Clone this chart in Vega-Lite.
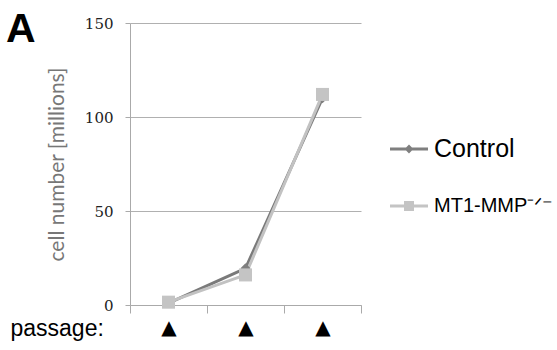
{
  "$schema": "https://vega.github.io/schema/vega-lite/v6.json",
  "autosize": "none",
  "width": 231,
  "height": 282,
  "padding": {"left": 130, "top": 23, "right": 196, "bottom": 45},
  "background": "white",
  "config": {"view": {"stroke": null}},
  "title": {
    "text": "A",
    "anchor": "start",
    "frame": "group",
    "font": "Liberation Sans",
    "fontSize": 41,
    "fontWeight": "bold",
    "color": "black",
    "baseline": "alphabetic",
    "dx": -124,
    "offset": 0,
    "dy": 67
  },
  "data": {
    "values": [
      {"passage": "P1", "series": "Control", "cells": 1.0},
      {"passage": "P2", "series": "Control", "cells": 19.5},
      {"passage": "P3", "series": "Control", "cells": 110},
      {"passage": "P1", "series": "MT1-MMP-/-", "cells": 1.5},
      {"passage": "P2", "series": "MT1-MMP-/-", "cells": 16},
      {"passage": "P3", "series": "MT1-MMP-/-", "cells": 112}
    ]
  },
  "encoding": {
    "x": {
      "field": "passage",
      "type": "ordinal",
      "scale": {"paddingInner": 0, "paddingOuter": 0},
      "axis": {
        "title": "passage:",
        "titleFont": "Liberation Sans",
        "titleFontSize": 23,
        "titleFontWeight": "normal",
        "titleColor": "black",
        "titleAnchor": "start",
        "titleAlign": "left",
        "titleBaseline": "alphabetic",
        "titleX": -120,
        "titleY": 30,
        "labelExpr": "(datum.label == 'P1' || datum.label == 'P2' || datum.label == 'P3') ? '▲' : ''",
        "labelFont": "DejaVu Sans",
        "labelFontSize": 20,
        "labelColor": "black",
        "labelAngle": 0,
        "labelPadding": 4,
        "labelBaseline": "top",
        "domainColor": "#aaaaaa",
        "tickColor": "#aaaaaa",
        "tickBand": "extent",
        "tickSize": 8,
        "grid": false
      }
    },
    "y": {
      "field": "cells",
      "type": "quantitative",
      "scale": {"domain": [0, 150], "nice": false},
      "axis": {
        "title": "cell number [millions]",
        "titleFont": "Lato",
        "titleFontSize": 21,
        "titleFontWeight": "normal",
        "titleColor": "#777777",
        "titlePadding": 17,
        "values": [0, 50, 100, 150],
        "labelFont": "DejaVu Serif",
        "labelFontSize": 15,
        "labelColor": "#222222",
        "labelPadding": 12,
        "domainColor": "#aaaaaa",
        "tickColor": "#aaaaaa",
        "tickSize": 5,
        "grid": true,
        "gridColor": "#b0b0b0",
        "gridWidth": 1
      }
    }
  },
  "layer": [
    {
      "transform": [{"filter": "datum.series == 'Control'"}],
      "mark": {"type": "line", "strokeWidth": 3, "color": "#7a7a7a"}
    },
    {
      "transform": [{"filter": "datum.series == 'MT1-MMP-/-'"}],
      "mark": {"type": "line", "strokeWidth": 3, "color": "#c2c2c2"}
    },
    {
      "transform": [{"filter": "datum.series == 'Control'"}],
      "mark": {"type": "point", "shape": "diamond", "filled": true, "size": 100, "color": "#7f7f7f", "opacity": 1}
    },
    {
      "transform": [{"filter": "datum.series == 'MT1-MMP-/-'"}],
      "mark": {"type": "point", "shape": "square", "filled": true, "size": 170, "color": "#c4c4c4", "opacity": 1}
    },
    {
      "mark": {"type": "point", "filled": true, "size": 1, "opacity": 0, "strokeWidth": 0},
      "encoding": {
        "fill": {
          "field": "series",
          "type": "nominal",
          "scale": {"domain": ["Control", "MT1-MMP-/-"], "range": ["#7f7f7f", "#c4c4c4"]},
          "legend": {
            "title": null,
            "orient": "none",
            "legendX": 259,
            "legendY": 106,
            "padding": 0,
            "symbolSize": 1600,
            "symbolOpacity": 1,
            "symbolStrokeWidth": 0,
            "labelOffset": 5,
            "rowPadding": 24,
            "labelFont": "Liberation Sans",
            "labelFontSize": {"expr": "datum.label == 'Control' ? 25 : 20"},
            "labelColor": "black",
            "labelLimit": 300,
            "labelExpr": "datum.label == 'Control' ? 'Control' : 'MT1-MMP⁻ᐟ⁻'"
          }
        },
        "shape": {
          "field": "series",
          "type": "nominal",
          "scale": {
            "domain": ["Control", "MT1-MMP-/-"],
            "range": [
              "M-0.95,-0.07H0.95V0.07H-0.95Z M-0.22,0L0,-0.22L0.22,0L0,0.22Z",
              "M-0.95,-0.07H0.95V0.07H-0.95Z M-0.25,-0.25H0.25V0.25H-0.25Z"
            ]
          },
          "legend": {
            "title": null,
            "orient": "none",
            "legendX": 259,
            "legendY": 106,
            "padding": 0,
            "symbolSize": 1600,
            "symbolOpacity": 1,
            "symbolStrokeWidth": 0,
            "labelOffset": 5,
            "rowPadding": 24,
            "labelFont": "Liberation Sans",
            "labelFontSize": {"expr": "datum.label == 'Control' ? 25 : 20"},
            "labelColor": "black",
            "labelLimit": 300,
            "labelExpr": "datum.label == 'Control' ? 'Control' : 'MT1-MMP⁻ᐟ⁻'"
          }
        }
      }
    }
  ]
}
